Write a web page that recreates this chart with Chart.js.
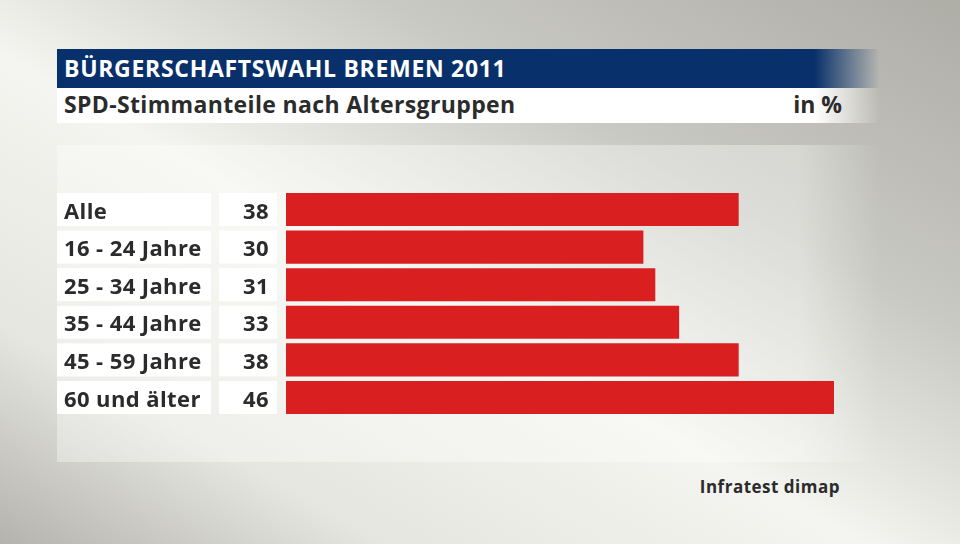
<!DOCTYPE html>
<html>
<head>
<meta charset="utf-8">
<script src="https://cdn.jsdelivr.net/npm/chart.js@4/dist/chart.umd.min.js"></script>
<style>
  html, body { margin: 0; padding: 0; }
  body {
    width: 960px; height: 544px; overflow: hidden; position: relative;
    background: linear-gradient(to bottom left, #aeada6 0%, #c9c9c3 30%, #f4f4f0 55%, #e6e6e1 80%, #b4b3ac 100%);
    font-family: "Open Sans", "Noto Sans", sans-serif;
  }
  #titlebar {
    position: absolute; left: 57px; top: 49px; width: 823px; height: 39px;
    background: linear-gradient(to right, #08306a 0%, #08306a 92%, rgba(8,48,106,0) 100%);
  }
  #title {
    position: absolute; left: 64px; top: 52px; color: #fff;
    font-weight: bold; font-size: 23px; letter-spacing: 0.7px; white-space: nowrap;
  }
  #subbar {
    position: absolute; left: 57px; top: 88px; width: 823px; height: 35px;
    background: linear-gradient(to right, #fff 0%, #fff 92%, rgba(255,255,255,0) 100%);
  }
  #subtitle {
    position: absolute; left: 64px; top: 88px; color: #2b2b2b;
    font-weight: bold; font-size: 23px; letter-spacing: 0.35px; white-space: nowrap;
  }
  #unit {
    position: absolute; right: 118px; top: 88px; color: #2b2b2b;
    font-weight: bold; font-size: 23px; white-space: nowrap;
  }
  #panel {
    position: absolute; left: 57px; top: 145px; width: 823px; height: 317px;
    background: linear-gradient(to right, rgba(255,255,255,0.35) 0%, rgba(255,255,255,0.35) 90%, rgba(255,255,255,0) 100%);
  }
  #source {
    position: absolute; right: 120px; top: 475px; color: #2b2b2b;
    font-weight: bold; font-size: 17px; letter-spacing: 0.5px; white-space: nowrap;
  }
  #wrap { position: absolute; left: 0; top: 0; width: 960px; height: 544px; }
</style>
</head>
<body>
<div id="panel"></div>
<div id="titlebar"></div>
<div id="title">BÜRGERSCHAFTSWAHL BREMEN 2011</div>
<div id="subbar"></div>
<div id="subtitle">SPD-Stimmanteile nach Altersgruppen</div>
<div id="unit">in %</div>
<div id="source">Infratest dimap</div>
<div id="wrap"><canvas id="myChart" width="960" height="544"></canvas></div>
<script>
var groups = ["Alle", "16 - 24 Jahre", "25 - 34 Jahre", "35 - 44 Jahre", "45 - 59 Jahre", "60 und älter"];
var spdShare = [38, 30, 31, 33, 38, 46];

// white label and value boxes left of each bar
var rowBoxes = {
  id: "rowBoxes",
  beforeDatasetsDraw: function (chart) {
    var ctx = chart.ctx;
    var yScale = chart.scales.y;
    var ds = chart.data.datasets[0];
    ctx.save();
    chart.data.labels.forEach(function (label, i) {
      var yc = yScale.getPixelForValue(i);
      var top = yc - 16.5;
      ctx.fillStyle = "#ffffff";
      ctx.fillRect(57, top, 154, 33);
      ctx.fillRect(219, top, 58, 33);
      ctx.fillStyle = "#2b2b2b";
      ctx.font = "bold 22px 'Open Sans', 'Noto Sans', sans-serif";
      ctx.letterSpacing = "0.4px";
      ctx.textBaseline = "alphabetic";
      ctx.textAlign = "left";
      ctx.fillText(label, 64, yc + 9);
      ctx.textAlign = "right";
      ctx.fillText(String(ds.data[i]), 269, yc + 9);
    });
    ctx.restore();
  }
};

var ctx = document.getElementById("myChart").getContext("2d");
var myChart = new Chart(ctx, {
  type: "bar",
  data: {
    labels: groups,
    datasets: [
      {
        label: "SPD",
        data: spdShare,
        backgroundColor: "#d91f20",
        borderWidth: 0,
        barPercentage: 0.88,
        categoryPercentage: 1,
      },
    ],
  },
  options: {
    indexAxis: "y",
    responsive: false,
    animation: false,
    layout: { padding: { left: 286, right: 78.35, top: 190.7, bottom: 127.7 } },
    scales: {
      x: { display: false, min: 0, max: 50 },
      y: { display: false, offset: true },
    },
    plugins: {
      legend: { display: false },
      tooltip: { enabled: false },
    },
  },
  plugins: [rowBoxes],
});
</script>
</body>
</html>
